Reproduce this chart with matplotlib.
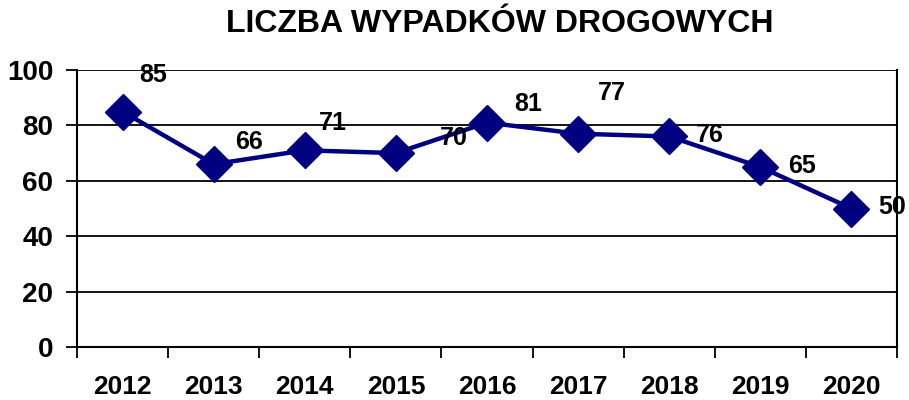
import matplotlib
matplotlib.use("Agg")
import matplotlib.pyplot as plt

years = ["2012", "2013", "2014", "2015", "2016", "2017", "2018", "2019", "2020"]
accidents = [85, 66, 71, 70, 81, 77, 76, 65, 50]
title = "LICZBA WYPADKÓW DROGOWYCH"
y_ticks = [0, 20, 40, 60, 80, 100]

plt.rcParams["font.family"] = ["Liberation Sans", "DejaVu Sans"]

fig = plt.figure(figsize=(9.09, 4.0), dpi=100)
ax = fig.add_axes([77/909, 1-347/400, (897-77)/909, (347-70)/400])

x = list(range(len(years)))
ax.plot(x, accidents, color="#000080", lw=3.2, marker="D", ms=18, mfc="#000080",
        mec="#000080", zorder=5, clip_on=False)

offsets = [(31, 37), (35, 22), (28, 27), (58, 15), (41, 19), (34, 41), (41, 1), (42, 1), (41, 2)]
for xi, v, (dx, dy) in zip(x, accidents, offsets):
    ax.annotate(str(v), (xi, v), xytext=(dx, dy), textcoords="offset pixels",
                ha="center", va="center", fontsize=18, fontweight="bold", zorder=6)

ax.set_xlim(-0.5, len(years) - 0.5)
ax.set_ylim(0, 100)
ax.set_yticks(y_ticks)
ax.set_yticklabels([str(t) for t in y_ticks], fontsize=20, fontweight="bold")
ax.set_xticks([i - 0.5 for i in range(len(years) + 1)])
ax.set_xticklabels([])
ax.set_xticks(x, minor=True)
ax.set_xticklabels(years, minor=True, fontsize=19, fontweight="bold")
ax.tick_params(axis="x", which="major", length=8, width=1.3, direction="out")
ax.tick_params(axis="x", which="minor", length=0, pad=20)
ax.tick_params(axis="y", length=8, width=1.3, direction="out", pad=9)

ax.grid(axis="y", color="black", lw=1.3)
ax.set_axisbelow(True)
for s in ["left", "right", "bottom"]:
    ax.spines[s].set_linewidth(1.5)
ax.spines["top"].set_visible(False)

fig.text(0.55, 1-24/400, title, ha="center", va="center", fontsize=23, fontweight="bold")

fig.savefig("out.png", dpi=100)
